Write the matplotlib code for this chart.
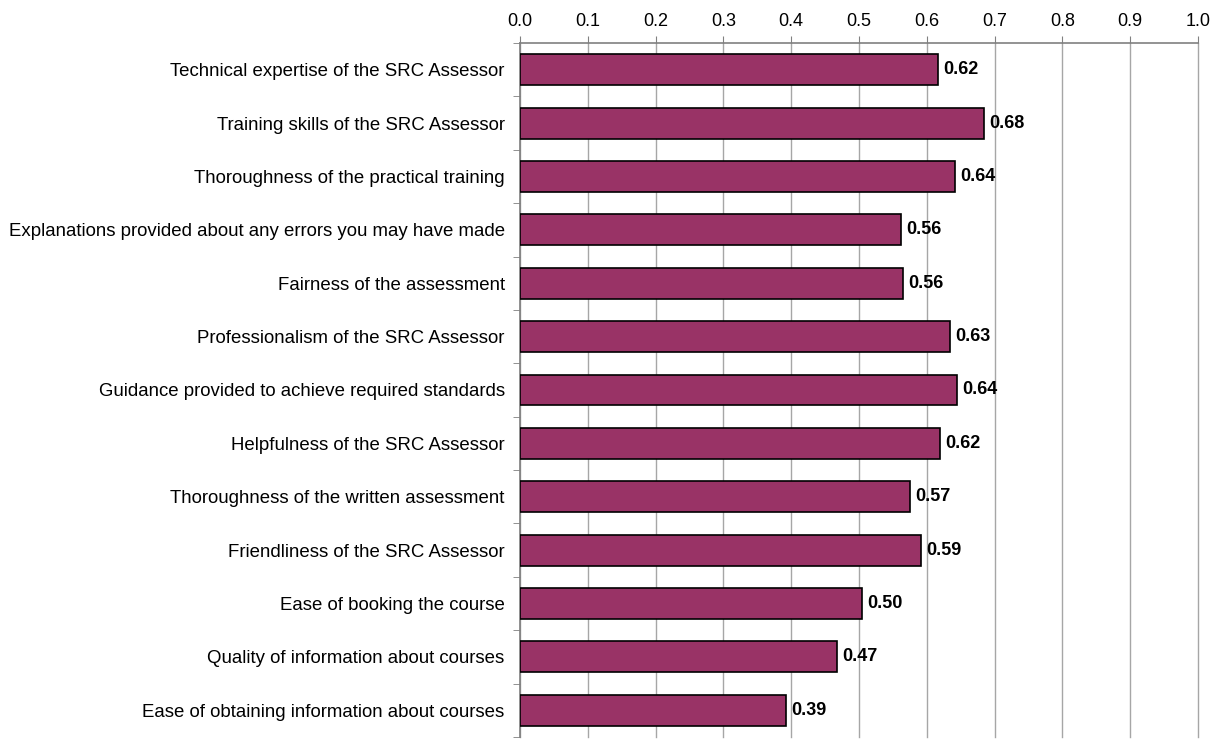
import matplotlib.pyplot as plt
import numpy as np

plt.rcParams["font.family"] = ["Liberation Sans", "DejaVu Sans"]

categories = [
    "Technical expertise of the SRC Assessor",
    "Training skills of the SRC Assessor",
    "Thoroughness of the practical training",
    "Explanations provided about any errors you may have made",
    "Fairness of the assessment",
    "Professionalism of the SRC Assessor",
    "Guidance provided to achieve required standards",
    "Helpfulness of the SRC Assessor",
    "Thoroughness of the written assessment",
    "Friendliness of the SRC Assessor",
    "Ease of booking the course",
    "Quality of information about courses",
    "Ease of obtaining information about courses",
]
values = [0.617, 0.684, 0.641, 0.562, 0.565, 0.634, 0.644, 0.619, 0.575, 0.591, 0.504, 0.467, 0.392]

fig = plt.figure(figsize=(12.19, 7.4), dpi=100)
ax = fig.add_axes([520 / 1219, 3 / 740, 678 / 1219, 694 / 740])

y = np.arange(len(categories))
ax.barh(y, values, height=0.58, color="#993366", edgecolor="black", linewidth=1.2, zorder=3)

for yi, v in zip(y, values):
    ax.text(v + 0.008, yi, f"{v:.2f}", va="center", ha="left",
            fontsize=13, fontweight="bold", zorder=4)

ax.set_xlim(0, 1.0)
ax.set_ylim(len(categories) - 0.5, -0.5)
ticks = np.arange(0, 1.01, 0.1)
ax.set_xticks(ticks)
ax.set_xticklabels([f"{t:.1f}" for t in ticks], fontsize=13)
ax.xaxis.tick_top()
ax.tick_params(axis="x", length=5, color="#808080", pad=4)

ax.set_yticks(y)
ax.set_yticklabels(categories, fontsize=13.4)
ax.tick_params(axis="y", length=0, pad=11)
ax.set_yticks(np.arange(-0.5, len(categories), 1), minor=True)
ax.tick_params(axis="y", which="minor", length=5, color="#808080")

for t in ticks:
    ax.axvline(t, color="#a6a6a6", linewidth=1, zorder=0, clip_on=False)
for s in ["right", "bottom"]:
    ax.spines[s].set_visible(False)
for s in ["top", "left"]:
    ax.spines[s].set_color("#808080")
    ax.spines[s].set_linewidth(1.2)

fig.savefig("out.png", dpi=100)
